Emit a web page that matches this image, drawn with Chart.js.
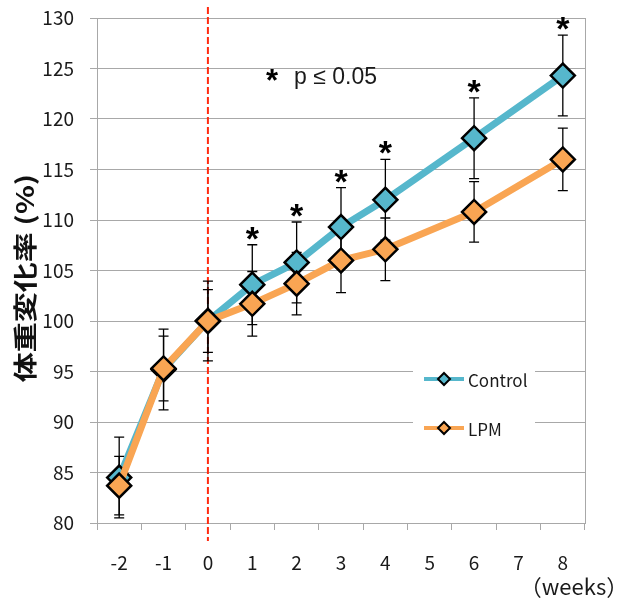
<!DOCTYPE html>
<html>
<head>
<meta charset="utf-8">
<script src="https://cdn.jsdelivr.net/npm/chart.js@4.4.1/dist/chart.umd.min.js"></script>
<style>
  html, body { margin: 0; padding: 0; background: #fff; }
  #wrap { width: 617px; height: 600px; }
</style>
</head>
<body>
<div id="wrap"><canvas id="myChart" width="617" height="600"></canvas></div>
<script>
// weeks relative to start (5 and 7 have no measurement)
let weekLabels = ['-2', '-1', '0', '1', '2', '3', '4', '5', '6', '7', '8'];
let controlMean = [84.5, 95.2, 100, 103.6, 105.8, 109.3, 112.0, null, 118.1, null, 124.3];
let lpmMean = [83.7, 95.3, 100, 101.7, 103.7, 106.0, 107.1, null, 110.8, null, 116.0];
let controlErr = [4.0, 4.0, 3.95, 3.95, 4.0, 3.9, 4.0, null, 4.0, null, 4.0];
let lpmErr = [2.9, 3.2, 3.1, 3.2, 3.1, 3.2, 3.1, null, 3.0, null, 3.1];
let sigWeeks = ['1', '2', '3', '4', '6', '8'];
let yMin = 80, yMax = 130, yStep = 5;

let blue = '#56B7CC';
let orange = '#F9A553';
let gridColor = '#A8A8A8';
let tickFont = "'Noto Sans CJK JP', 'Noto Sans', sans-serif";

function diamond(ctx, x, y, r, fill) {
  ctx.beginPath();
  ctx.moveTo(x, y - r);
  ctx.lineTo(x + r, y);
  ctx.lineTo(x, y + r);
  ctx.lineTo(x - r, y);
  ctx.closePath();
  ctx.fillStyle = fill;
  ctx.fill();
  ctx.lineWidth = 2;
  ctx.strokeStyle = '#000';
  ctx.stroke();
}

let extras = {
  id: 'extras',
  beforeDatasetsDraw(chart) {
    let ctx = chart.ctx;
    let a = chart.chartArea;
    let x = chart.scales.x, y = chart.scales.y;
    ctx.save();
    // right frame line
    ctx.strokeStyle = gridColor;
    ctx.lineWidth = 1;
    ctx.beginPath();
    ctx.moveTo(Math.round(a.right) + 0.5, a.top);
    ctx.lineTo(Math.round(a.right) + 0.5, a.bottom);
    ctx.stroke();

    // red dashed line at week 0
    let x0 = x.getPixelForValue(weekLabels.indexOf('0'));
    ctx.strokeStyle = '#FF2A10';
    ctx.lineWidth = 2;
    ctx.setLineDash([7, 3]);
    ctx.beginPath();
    ctx.moveTo(x0, 7);
    ctx.lineTo(x0, 541);
    ctx.stroke();
    ctx.setLineDash([]);

    // error bars
    ctx.strokeStyle = '#000';
    ctx.lineWidth = 1.3;
    [[controlMean, controlErr], [lpmMean, lpmErr]].forEach(pair => {
      pair[0].forEach((v, i) => {
        if (v === null) return;
        let px = x.getPixelForValue(i);
        let top = y.getPixelForValue(v + pair[1][i]);
        let bot = y.getPixelForValue(v - pair[1][i]);
        ctx.beginPath();
        ctx.moveTo(px, top);
        ctx.lineTo(px, bot);
        ctx.moveTo(px - 5, top);
        ctx.lineTo(px + 5, top);
        ctx.moveTo(px - 5, bot);
        ctx.lineTo(px + 5, bot);
        ctx.stroke();
      });
    });
    ctx.restore();
  },
  afterDraw(chart) {
    let ctx = chart.ctx;
    let x = chart.scales.x, y = chart.scales.y;
    ctx.save();

    // significance marks above control error bars
    ctx.fillStyle = '#000';
    ctx.font = "bold 34px 'Liberation Sans', Arial, sans-serif";
    ctx.textAlign = 'center';
    ctx.textBaseline = 'alphabetic';
    sigWeeks.forEach(w => {
      let i = weekLabels.indexOf(w);
      let py = y.getPixelForValue(controlMean[i] + controlErr[i]) - 13;
      ctx.fillText('*', x.getPixelForValue(i), py + 18);
    });

    // note
    ctx.font = "bold 31px 'Liberation Sans', Arial, sans-serif";
    ctx.fillText('*', 272, 91);
    ctx.textAlign = 'left';
    ctx.font = "23px 'Liberation Sans', Arial, sans-serif";
    ctx.fillStyle = '#1a1a1a';
    ctx.fillText('p \u2264 0.05', 294, 84);

    // legend inside plot
    ctx.fillStyle = '#fff';
    ctx.fillRect(413, 345, 122, 105);
    let items = [
      { label: chart.data.datasets[1].label, color: blue, y: 379 },
      { label: chart.data.datasets[0].label, color: orange, y: 428 }
    ];
    items.forEach(it => {
      ctx.strokeStyle = it.color;
      ctx.lineWidth = 4;
      ctx.beginPath();
      ctx.moveTo(424, it.y);
      ctx.lineTo(464, it.y);
      ctx.stroke();
      diamond(ctx, 444, it.y, 6, it.color);
      ctx.fillStyle = '#1a1a1a';
      ctx.font = "17px " + tickFont;
      ctx.textAlign = 'left';
      ctx.textBaseline = 'middle';
      ctx.fillText(it.label, 468, it.y + 2);
    });

    // y axis title
    ctx.save();
    ctx.translate(25, 278);
    ctx.rotate(-Math.PI / 2);
    ctx.scale(1.25, 1);
    ctx.fillStyle = '#111';
    ctx.font = "bold 24px " + tickFont;
    ctx.textAlign = 'center';
    ctx.textBaseline = 'middle';
    ctx.fillText('体重変化率 (%)', 0, 0);
    ctx.restore();

    // unit
    ctx.fillStyle = '#1a1a1a';
    ctx.font = "22px " + tickFont;
    ctx.textAlign = 'center';
    ctx.textBaseline = 'middle';
    ctx.fillText('（weeks）', 574, 587);
    ctx.restore();
  }
};

let ctx = document.getElementById('myChart').getContext('2d');
let myChart = new Chart(ctx, {
  type: 'line',
  data: {
    labels: weekLabels,
    datasets: [
      {
        label: 'LPM',
        data: lpmMean,
        order: 0,
        borderColor: orange,
        backgroundColor: orange,
        borderWidth: 7,
        pointStyle: 'rectRot',
        pointRadius: 12,
        pointBorderWidth: 2.5,
        pointBorderColor: '#000',
        pointBackgroundColor: orange,
        spanGaps: true,
        tension: 0
      },
      {
        label: 'Control',
        data: controlMean,
        order: 1,
        borderColor: blue,
        backgroundColor: blue,
        borderWidth: 7,
        pointStyle: 'rectRot',
        pointRadius: 12,
        pointBorderWidth: 2.5,
        pointBorderColor: '#000',
        pointBackgroundColor: blue,
        spanGaps: true,
        tension: 0
      }
    ]
  },
  options: {
    responsive: false,
    animation: false,
    layout: { padding: { left: 0, right: 32, top: 18, bottom: 0 } },
    plugins: {
      legend: { display: false },
      tooltip: { enabled: false }
    },
    scales: {
      x: {
        type: 'category',
        offset: true,
        afterFit: scale => { scale.height = 77; },
        grid: {
          offset: true,
          drawOnChartArea: false,
          drawTicks: true,
          tickLength: 7,
          color: gridColor
        },
        border: { color: gridColor },
        ticks: {
          padding: 21,
          color: '#1a1a1a',
          font: { family: tickFont, size: 19 },
          maxRotation: 0,
          autoSkip: false
        }
      },
      y: {
        min: yMin,
        max: yMax,
        afterFit: scale => {
          scale.width = 97;
          scale.paddingTop = 0;
          scale.paddingBottom = 0;
        },
        grid: {
          color: gridColor,
          tickLength: 7
        },
        border: { color: gridColor },
        ticks: {
          stepSize: yStep,
          padding: 16,
          color: '#1a1a1a',
          font: { family: tickFont, size: 19 }
        }
      }
    }
  },
  plugins: [extras]
});
</script>
</body>
</html>
